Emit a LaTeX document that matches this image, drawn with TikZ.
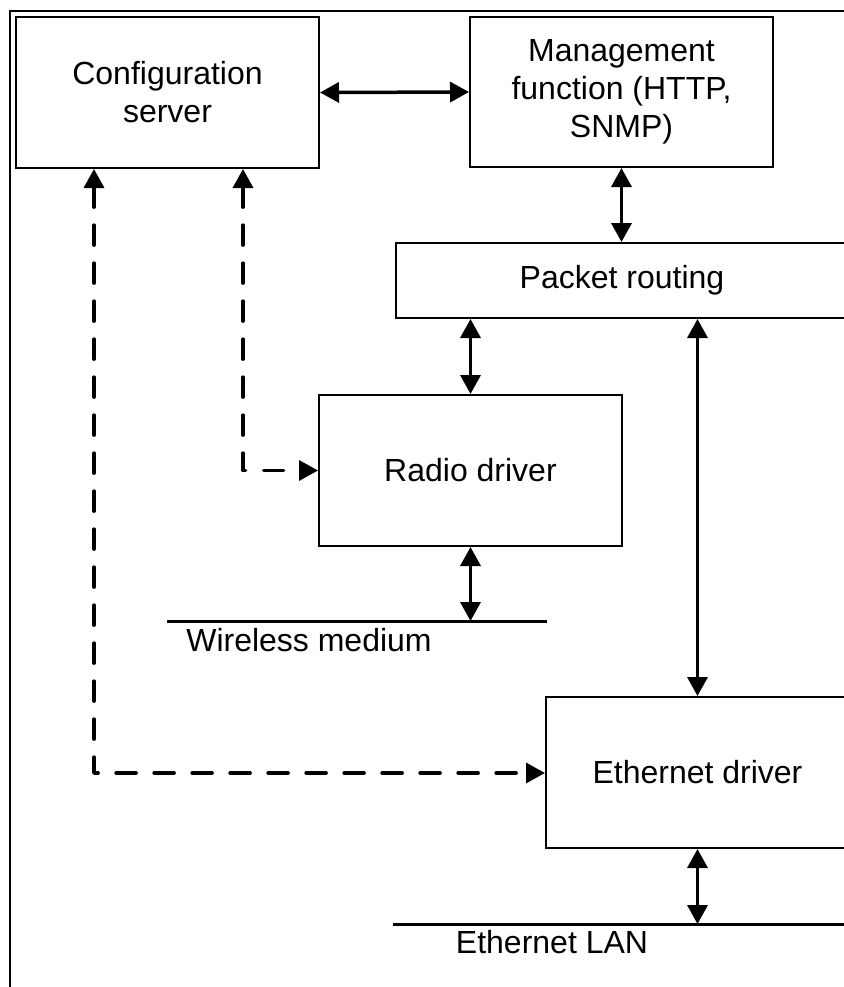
\documentclass[tikz,border=0pt]{standalone}
\usepackage{fontspec}
\setmainfont{Liberation Sans}
\usetikzlibrary{arrows.meta,calc}

\tikzset{
  block/.style={draw, line width=1pt, align=center, inner sep=0pt,
    font=\fontsize{16pt}{19pt}\selectfont},
  label text/.style={inner sep=0pt, font=\fontsize{16pt}{19pt}\selectfont},
  biarrow/.style={line width=1.75pt,
    {Triangle[length=9.5pt,width=10pt]}-{Triangle[length=9.5pt,width=10pt]}},
  dasharrow/.style={line width=1.75pt, line cap=round, line join=round,
    dash pattern=on 10pt off 9pt,
    {Triangle[length=9.5pt,width=10pt]}-{Triangle[length=9.5pt,width=10pt]}},
  medium/.style={line width=1.5pt}
}

\begin{document}
\begin{tikzpicture}[x=0.5pt,y=-0.5pt]
  \useasboundingbox (0,0) rectangle (844,987);
  \clip (0,0) rectangle (844,987);

  % outer frame
  \draw[line width=1pt] (10,11) rectangle (900,1050);

  % functional blocks
  \node[block, minimum width=151.5pt, minimum height=75.5pt] (cfg) at (167.5,92.5)
    {Configuration\\server};
  \node[block, minimum width=151.5pt, minimum height=75pt] (mgmt) at (621.5,92)
    {Management\\function (HTTP,\\SNMP)};
  \node[block, minimum width=226pt, minimum height=37.5pt] (pkt) at (622,280.5)
    {Packet routing};
  \node[block, minimum width=151.5pt, minimum height=75.5pt] (radio) at (470.5,470.5)
    {Radio driver};
  \node[block, minimum width=151.5pt, minimum height=75.5pt] (eth) at (697.5,772.5)
    {Ethernet driver};

  % media lines
  \coordinate (wl0) at (167,621);
  \coordinate (wl1) at (547,621);
  \draw[medium] (wl0) -- (wl1);
  \node[label text] (wltext) at (309,640) {Wireless medium};

  \coordinate (lan0) at (393,924);
  \coordinate (lan1) at (900,924);
  \draw[medium] (lan0) -- (lan1);
  \node[label text] (lantext) at (552,942) {Ethernet LAN};

  % data paths
  \draw[biarrow] (cfg.east) -- (mgmt.west);
  \draw[biarrow] (mgmt.south) -- (mgmt.south |- pkt.north);
  \draw[biarrow] (radio.north) -- (radio.north |- pkt.south);
  \draw[biarrow] (radio.south) -- (radio.south |- wl0);
  \draw[biarrow] (eth.north) -- (eth.north |- pkt.south);
  \draw[biarrow] (eth.south) -- (eth.south |- lan0);

  % configuration paths
  \coordinate (c1) at (94,773);
  \coordinate (c2) at (243,470.5);
  \draw[dasharrow] (cfg.south -| c1) -- (c1) -- (eth.west |- c1);
  \draw[dasharrow] (cfg.south -| c2) -- (c2) -- (radio.west);
\end{tikzpicture}
\end{document}
